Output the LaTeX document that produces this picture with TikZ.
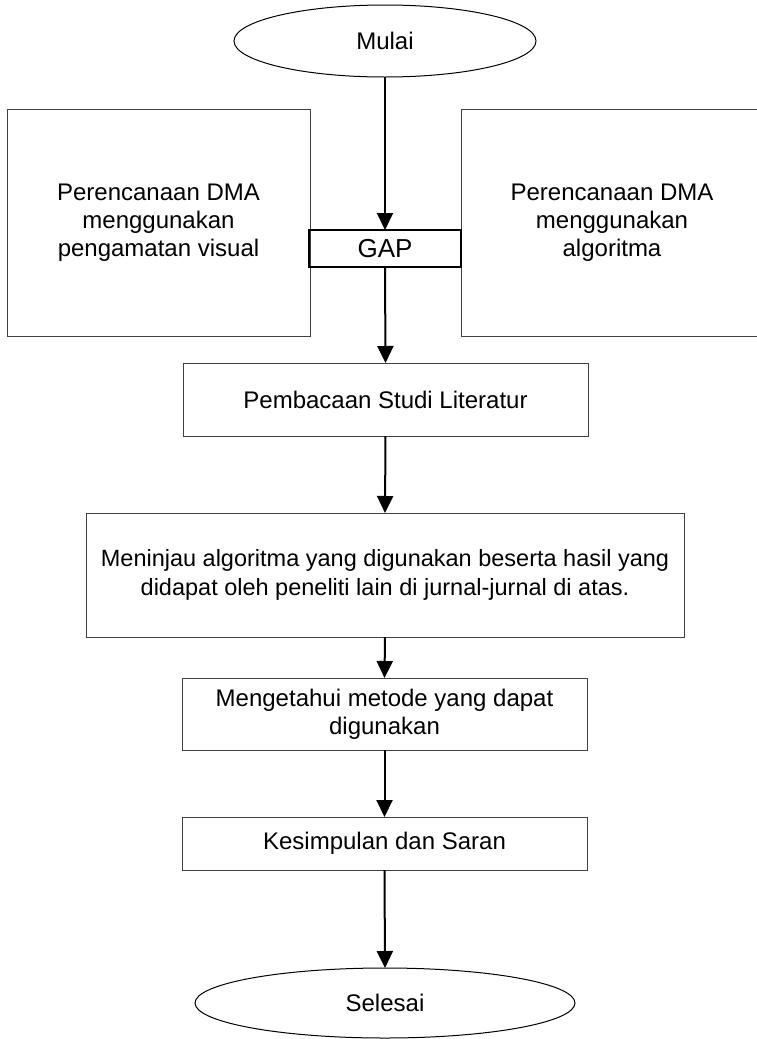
\documentclass[tikz,border=0pt]{standalone}
\usepackage{fontspec}
\setmainfont{Liberation Sans}
\usetikzlibrary{arrows.meta,shapes.geometric}
\begin{document}
\begin{tikzpicture}[x=1pt,y=-1pt,
  base/.style={inner sep=0pt,outer sep=0pt,align=center,
    font=\fontsize{24}{28}\selectfont},
  term/.style={base,ellipse,draw=black,line width=1pt},
  procbox/.style={base,rectangle,draw=black!75,line width=1pt},
  gapbox/.style={base,rectangle,draw=black,line width=2pt,
    font=\fontsize{26}{30}\selectfont},
  flow/.style={line width=2pt,black,-{Triangle[length=17pt,width=16pt]}}]
\useasboundingbox (0,0) rectangle (756,1039);
\node[term,minimum width=302pt,minimum height=72pt] (mulai) at (385,41) {Mulai};
\node[procbox,minimum width=303pt,minimum height=227pt] (kiri) at (158.5,222.5)
  {Perencanaan DMA\\menggunakan\\pengamatan visual};
\node[procbox,minimum width=302pt,minimum height=227pt] (kanan) at (612,222.5)
  {Perencanaan DMA\\menggunakan\\algoritma};
\node[gapbox,minimum width=152pt,minimum height=37pt] (gap) at (385,248.5) {GAP};
\node[procbox,minimum width=405pt,minimum height=73pt] (baca) at (385.5,399.5)
  {Pembacaan Studi Literatur};
\node[procbox,minimum width=598pt,minimum height=124pt,
  font=\fontsize{23.5}{29}\selectfont] (tinjau) at (385,575)
  {Meninjau algoritma yang digunakan beserta hasil yang\\didapat oleh peneliti lain di jurnal-jurnal di atas.};
\node[procbox,minimum width=405pt,minimum height=72pt] (tahu) at (384.5,714)
  {Mengetahui metode yang dapat\\digunakan};
\node[procbox,minimum width=405pt,minimum height=53pt] (simpul) at (384.5,843.5)
  {Kesimpulan dan Saran};
\node[term,minimum width=380pt,minimum height=70pt] (selesai) at (385,1003) {Selesai};
\draw[flow] (mulai.south) -- (gap.north);
\draw[flow] (gap.south) -- (baca.north);
\draw[flow] (baca.south) -- (tinjau.north);
\draw[flow] (tinjau.south) -- (tahu.north);
\draw[flow] (tahu.south) -- (simpul.north);
\draw[flow] (simpul.south) -- (selesai.north);
\end{tikzpicture}
\end{document}
